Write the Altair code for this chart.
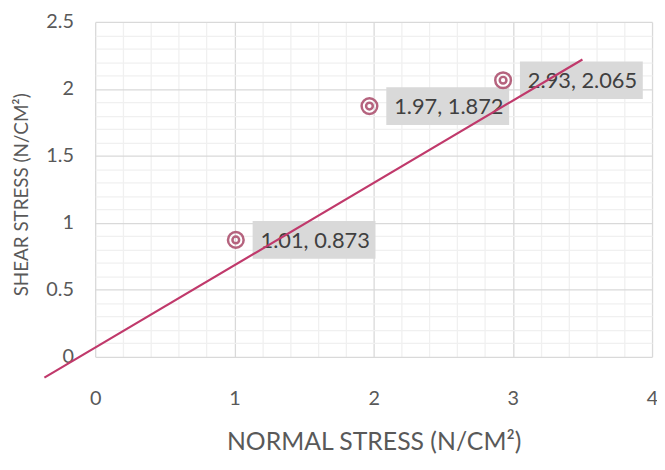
import altair as alt
import pandas as pd

# ---- data ----
normal_stress = [1.01, 1.97, 2.93]
shear_stress = [0.873, 1.872, 2.065]
point_labels = ["1.01, 0.873", "1.97, 1.872", "2.93, 2.065"]

trend_x = [-0.365, 3.5]
trend_y = [-0.155, 2.22]

x_grid_values = [0, 0.2, 0.4, 0.6, 0.8, 1, 1.2, 1.4, 1.6, 1.8, 2, 2.2, 2.4, 2.6, 2.8,
                 3, 3.2, 3.4, 3.6, 3.8, 4]
y_grid_values = [0, 0.1, 0.2, 0.3, 0.4, 0.5, 0.6, 0.7, 0.8, 0.9, 1, 1.1, 1.2, 1.3, 1.4,
                 1.5, 1.6, 1.7, 1.8, 1.9, 2, 2.1, 2.2, 2.3, 2.4, 2.5]

pts = pd.DataFrame({"x": normal_stress, "y": shear_stress, "label": point_labels})
trend = pd.DataFrame({"x": trend_x, "y": trend_y})

FONT = "Lato"
AXIS_GREY = "#595959"
MAJOR = "#D9D9D9"
MINOR = "#F0F0F0"

xscale = alt.Scale(domain=[0, 4], nice=False, zero=False)
yscale = alt.Scale(domain=[0, 2.5], nice=False, zero=False)

x_axis = alt.Axis(
    values=x_grid_values, tickCount=200, labelOverlap=False, labelFlush=False,
    labelExpr="abs(round(datum.value*10)) % 10 === 0 ? format(datum.value, '~g') : ''",
    gridColor={"condition": {"test": "abs(round(datum.value*10)) % 10 === 0", "value": MAJOR},
               "value": MINOR},
    gridWidth=1.3,
    domain=False, ticks=False, tickSize=0,
    labelPadding=32, labelFontSize=20, labelFont=FONT, labelColor=AXIS_GREY,
    title="NORMAL STRESS (N/CM²)", titleFont=FONT, titleFontSize=25,
    titleFontWeight="normal", titleColor=AXIS_GREY, titlePadding=22,
)
y_axis = alt.Axis(
    values=y_grid_values, tickCount=200, labelOverlap=False, labelFlush=False,
    labelExpr="abs(round(datum.value*10)) % 5 === 0 ? format(datum.value, '~g') : ''",
    gridColor={"condition": {"test": "abs(round(datum.value*10)) % 5 === 0", "value": MAJOR},
               "value": MINOR},
    gridWidth=1.3,
    domain=False, ticks=False, tickSize=0,
    labelPadding=22, labelFontSize=20, labelFont=FONT, labelColor=AXIS_GREY,
    title="SHEAR STRESS (N/CM²)", titleFont=FONT, titleFontSize=19,
    titleFontWeight="normal", titleColor=AXIS_GREY, titlePadding=14, titleY=174,
)

boxes = alt.Chart(pts).mark_rect(
    color="#D9D9D9", xOffset=17, x2Offset=141, yOffset=-19, y2Offset=19
).encode(
    x=alt.X("x:Q", scale=xscale, axis=x_axis),
    x2="x:Q",
    y=alt.Y("y:Q", scale=yscale, axis=y_axis),
    y2="y:Q",
)

texts = alt.Chart(pts).mark_text(
    align="left", baseline="middle", dx=25, dy=1, font=FONT, fontSize=22, color="#404040"
).encode(x="x:Q", y="y:Q", text="label:N")

line = alt.Chart(trend).mark_line(color="#C0396B", strokeWidth=2.2, clip=False).encode(
    x="x:Q", y="y:Q"
)

outer = alt.Chart(pts).mark_point(
    shape="circle", filled=False, stroke="#B5637E", strokeWidth=2.5, size=250, opacity=1
).encode(x="x:Q", y="y:Q")
inner = alt.Chart(pts).mark_point(
    shape="circle", filled=False, stroke="#B5637E", strokeWidth=2.5, size=46, opacity=1
).encode(x="x:Q", y="y:Q")

chart = alt.layer(boxes, texts, line, outer, inner).properties(
    width=562, height=338,
    autosize=alt.AutoSizeParams(type="none"),
    padding={"left": 88, "top": 12, "right": 5, "bottom": 100},
).configure_view(stroke=None)

chart.save("out.html", embed_options={"renderer": "svg", "actions": False})
